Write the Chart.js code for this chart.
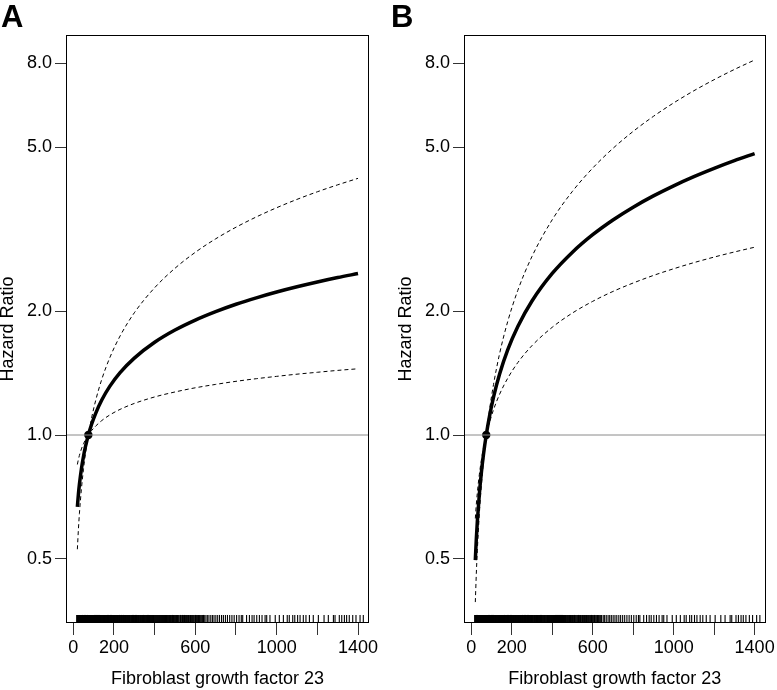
<!DOCTYPE html>
<html><head><meta charset="utf-8">
<script src="https://cdn.jsdelivr.net/npm/chart.js@4"></script>
<style>
html,body{margin:0;padding:0;background:#fff;width:777px;height:690px;overflow:hidden;}
#wrapA{position:absolute;left:0;top:0;width:388px;height:690px;}
#wrapB{position:absolute;left:398px;top:0;width:379px;height:690px;}
.lab{position:absolute;font-family:"Liberation Sans",Arial,sans-serif;font-weight:bold;font-size:31px;line-height:31px;top:1px;color:#000;}
</style></head><body>
<div id="wrapA"><canvas id="cA" width="388" height="690"></canvas></div>
<div id="wrapB"><canvas id="cB" width="379" height="690"></canvas></div>
<div class="lab" style="left:1px;">A</div>
<div class="lab" style="left:391px;">B</div>
<script>
// ---- data ----
const fgf23 = [20, 25, 30, 40, 50, 60, 74, 90, 110, 140, 180, 230, 300, 400, 500, 600, 700, 800, 900, 1000, 1100, 1200, 1300, 1400];

const hrA    = [0.669, 0.717, 0.758, 0.828, 0.887, 0.938, 1.000, 1.062, 1.129, 1.216, 1.314, 1.417, 1.537, 1.679, 1.798, 1.901, 1.993, 2.077, 2.153, 2.224, 2.290, 2.352, 2.411, 2.466];
const upperA = [0.848, 0.872, 0.892, 0.925, 0.952, 0.974, 1.000, 1.100, 1.213, 1.365, 1.543, 1.739, 1.980, 2.278, 2.540, 2.777, 2.994, 3.195, 3.384, 3.563, 3.733, 3.895, 4.049, 4.199];
const lowerA = [0.528, 0.589, 0.644, 0.741, 0.826, 0.903, 1.000, 1.025, 1.051, 1.084, 1.119, 1.154, 1.193, 1.237, 1.272, 1.302, 1.327, 1.350, 1.370, 1.388, 1.405, 1.420, 1.435, 1.448];

const hrB    = [0.497, 0.560, 0.617, 0.720, 0.811, 0.894, 1.000, 1.110, 1.236, 1.406, 1.609, 1.834, 2.115, 2.467, 2.779, 3.064, 3.327, 3.574, 3.806, 4.027, 4.238, 4.439, 4.634, 4.821];
const upperB = [0.627, 0.679, 0.724, 0.803, 0.869, 0.928, 1.000, 1.150, 1.327, 1.576, 1.885, 2.245, 2.713, 3.331, 3.905, 4.447, 4.964, 5.459, 5.938, 6.401, 6.852, 7.289, 7.718, 8.136];
const lowerB = [0.393, 0.461, 0.525, 0.645, 0.756, 0.861, 1.000, 1.072, 1.152, 1.256, 1.373, 1.499, 1.648, 1.826, 1.978, 2.111, 2.231, 2.339, 2.440, 2.533, 2.621, 2.704, 2.782, 2.857];

const refPointX = [74];
const refPointY = [1.0];

const rugValues = [17, 20, 23, 26, 29, 31, 34, 37, 40, 43, 46, 49, 52, 55, 58, 61, 64, 67, 70, 73, 76, 79, 82, 85, 88, 91, 94, 97, 100, 104, 107, 110, 114, 117, 120, 124, 127, 131, 134, 138, 141, 145, 148, 152, 155, 159, 162, 166, 170, 173, 177, 181, 184, 188, 192, 196, 199, 203, 207, 211, 215, 219, 223, 227, 231, 235, 239, 243, 247, 251, 255, 259, 263, 268, 272, 276, 280, 285, 289, 293, 298, 302, 306, 311, 315, 320, 324, 329, 333, 338, 342, 347, 351, 356, 361, 365, 370, 375, 379, 384, 389, 394, 398, 403, 408, 413, 418, 423, 428, 433, 438, 443, 448, 453, 458,
  19, 22, 25, 28, 32, 35, 38, 42, 45, 48, 51, 54, 57, 60, 63, 66, 69, 72, 75, 78, 81, 84, 87, 90, 93, 96, 99, 102, 105, 109, 112, 116, 119, 122, 126, 129, 133, 136, 140, 143, 147, 150, 154, 157, 161, 164, 168, 172, 175, 179, 183, 186, 190, 194, 198, 201, 205, 209, 213, 217, 221, 225, 229, 233, 237, 241, 245, 249, 253, 257, 261, 266, 270, 274, 278, 283, 287, 291, 296, 300, 304, 309, 313, 318, 322, 327, 331, 336, 340, 345, 349, 354, 359, 363, 368, 373, 377, 382, 387, 392, 396, 401, 406, 411, 416, 421, 426, 431, 436, 441, 446, 451, 456, 461,
  464, 466, 469, 472, 474, 477, 479, 482, 485, 488, 490, 493, 496, 499, 501, 504, 507, 510, 512, 516, 519, 524, 527, 530, 534, 537, 540, 543, 547, 550, 553, 556, 560, 563, 566, 569, 573, 576, 580, 583, 587, 590, 594, 598, 601, 605, 609, 612, 616, 620, 624, 628, 632, 636, 640,
  644, 652, 659, 667, 676, 684, 692, 701, 710, 719, 729, 738, 748, 758, 769, 780, 791, 803, 815, 826,
  833, 852, 866, 879, 889, 902, 915, 928, 943, 951, 967, 993, 1013, 1033, 1052, 1062, 1079, 1089, 1103, 1115, 1131, 1144, 1161, 1180, 1205, 1233, 1254, 1279, 1287, 1308, 1320, 1333, 1344, 1357, 1374, 1390, 1410, 1426];

const yTickValues = [0.5, 1, 2, 5, 8];
const xTickValues = [0, 200, 400, 600, 800, 1000, 1200, 1400];
const xTickLabels = ['0', '200', '', '600', '', '1000', '', '1400'];

// ---- chart setup ----
const FONT = '"Liberation Sans", Arial, Helvetica, sans-serif';
const FS = 18;
Chart.defaults.font.family = FONT;
Chart.defaults.font.size = FS;
Chart.defaults.color = '#000';

const X_MIN = -35.9, X_MAX = 1454;
const Y_MIN = 0.3496, Y_MAX = 9.357;
const RUG_Y = 0.3576;

const framePlugin = {
  id: 'frame',
  afterDatasetsDraw(chart) {
    const a = chart.chartArea, ctx = chart.ctx;
    ctx.save();
    ctx.strokeStyle = '#000';
    ctx.lineWidth = 1;
    ctx.strokeRect(Math.round(a.left) + 0.5, Math.round(a.top) + 0.5,
                   Math.round(a.right - a.left) - 1, Math.round(a.bottom - a.top) - 1);
    ctx.restore();
  }
};

function pts(xs, ys) { return xs.map((x, i) => ({ x: x, y: ys[i] })); }

function makePanel(id, hr, lo, hi, padRight) {
  new Chart(document.getElementById(id), {
    type: 'line',
    data: {
      datasets: [
        { data: [{ x: X_MIN, y: 1 }, { x: X_MAX, y: 1 }], borderColor: '#8a8a8a', borderWidth: 1, pointRadius: 0 },
        { data: pts(fgf23, hi), borderColor: '#000', borderWidth: 1, borderDash: [4, 3], pointRadius: 0, cubicInterpolationMode: 'monotone' },
        { data: pts(fgf23, lo), borderColor: '#000', borderWidth: 1, borderDash: [4, 3], pointRadius: 0, cubicInterpolationMode: 'monotone' },
        { data: pts(fgf23, hr), borderColor: '#000', borderWidth: 3.5, pointRadius: 0, cubicInterpolationMode: 'monotone', borderCapStyle: 'butt' },
        { data: pts(refPointX, refPointY), showLine: false, pointRadius: 4.2, pointBackgroundColor: '#000', pointBorderColor: '#000', pointBorderWidth: 0 },
        { data: rugValues.map(v => ({ x: v, y: RUG_Y })), showLine: false, pointStyle: 'line', pointRotation: 90, pointRadius: 4, pointBorderColor: '#000', pointBorderWidth: 1.1, clip: false }
      ]
    },
    options: {
      responsive: false,
      animation: false,
      events: [],
      layout: { padding: { top: 35, right: padRight, left: 0, bottom: 0 } },
      plugins: { legend: { display: false }, tooltip: { enabled: false } },
      scales: {
        x: {
          type: 'linear', min: X_MIN, max: X_MAX, bounds: 'data',
          afterBuildTicks: s => { s.ticks = xTickValues.map(v => ({ value: v })); },
          afterFit: s => { s.height = 67; },
          ticks: { autoSkip: false, maxRotation: 0, padding: 2, color: '#000', font: { size: FS },
                   callback: (v, i) => xTickLabels[i] },
          grid: { display: true, drawOnChartArea: false, drawTicks: true, tickLength: 12, color: '#333', lineWidth: 1 },
          border: { display: false },
          title: { display: true, text: 'Fibroblast growth factor 23', color: '#000', font: { size: FS }, padding: { top: 0, bottom: 0 } }
        },
        y: {
          type: 'logarithmic', min: Y_MIN, max: Y_MAX, bounds: 'data',
          afterBuildTicks: s => { s.ticks = yTickValues.map(v => ({ value: v })); },
          afterFit: s => { s.width = 66; },
          ticks: { autoSkip: false, padding: 3, color: '#000', font: { size: FS },
                   callback: v => Number(v).toFixed(1) },
          grid: { display: true, drawOnChartArea: false, drawTicks: true, tickLength: 11, color: '#333', lineWidth: 1 },
          border: { display: false },
          title: { display: true, text: 'Hazard Ratio', color: '#000', font: { size: FS, lineHeight: 0.85 }, padding: { top: 0, bottom: 0 } }
        }
      }
    },
    plugins: [framePlugin]
  });
}

makePanel('cA', hrA, lowerA, upperA, 19);
makePanel('cB', hrB, lowerB, upperB, 10);
</script>
</body></html>
